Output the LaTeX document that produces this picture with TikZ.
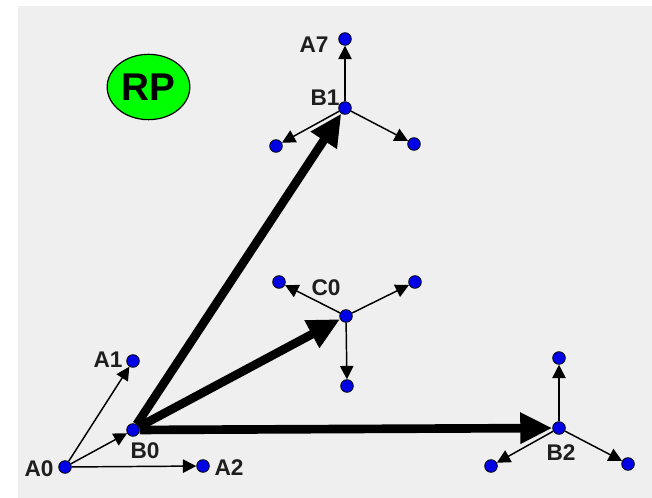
\documentclass[tikz,border=0pt]{standalone}
\usepackage{fontspec}
\setmainfont{Liberation Sans}
\usetikzlibrary{arrows.meta, shapes.geometric}
\definecolor{panelgrey}{RGB}{239, 239, 239}
\definecolor{rpgreen}{RGB}{0, 255, 0}
\definecolor{dotblue}{RGB}{0, 0, 230}
\definecolor{labelgrey}{RGB}{30, 30, 30}
\tikzset{
  dot/.style={circle, draw=black, fill=dotblue, line width=0.6pt, inner sep=0pt, minimum size=9.5pt},
  tag/.style={font=\fontsize{17}{17}\selectfont\bfseries, text=labelgrey, inner sep=0pt},
  thinarrow/.style={-{Triangle[length=10pt, width=10pt]}, line width=1.1pt},
  fatarrow/.style={-{Triangle[length=24pt, width=22pt]}, line width=6.5pt}
}

\begin{document}
\begin{tikzpicture}[x=0.75pt, y=-0.75pt]
            \useasboundingbox (0,0) rectangle (652,498);
            \fill[panelgrey] (18,6) rectangle (652,498);
            % group A
            \node[dot] (A0) at (65,467) {};
            \node[dot] (A1) at (133,361) {};
            \node[dot] (A2) at (203,466) {};
            \node[dot] (B0) at (133,430) {};
            % group B1
            \node[dot] (B1) at (345,108) {};
            \node[dot] (A7) at (345,39) {};
            \node[dot] (B1l) at (276,146) {};
            \node[dot] (B1r) at (414,144) {};
            % group C0
            \node[dot] (C0) at (346,316) {};
            \node[dot] (C0l) at (279,282) {};
            \node[dot] (C0r) at (415,282) {};
            \node[dot] (C0d) at (347,386) {};
            % group B2
            \node[dot] (B2) at (559,428) {};
            \node[dot] (B2u) at (559,358) {};
            \node[dot] (B2l) at (491,466) {};
            \node[dot] (B2r) at (628,464) {};
            \draw[thinarrow] (A0) -- (A1);
            \draw[thinarrow] (A0) -- (A2);
            \draw[thinarrow] (A0) -- (B0);
            \draw[thinarrow] (B1) -- (A7);
            \draw[thinarrow] (B1) -- (B1l);
            \draw[thinarrow] (B1) -- (B1r);
            \draw[thinarrow] (C0) -- (C0l);
            \draw[thinarrow] (C0) -- (C0r);
            \draw[thinarrow] (C0) -- (C0d);
            \draw[thinarrow] (B2) -- (B2u);
            \draw[thinarrow] (B2) -- (B2l);
            \draw[thinarrow] (B2) -- (B2r);
            \draw[fatarrow] (B0) -- (B1);
            \draw[fatarrow] (B0) -- (C0);
            \draw[fatarrow] (B0) -- (B2);
            % labels
            \node[tag] (lA0) at (39,469) {A0};
            \node[tag] (lA1) at (108,360) {A1};
            \node[tag] (lA2) at (229,468) {A2};
            \node[tag] (lB0) at (145,451) {B0};
            \node[tag] (lA7) at (314,45) {A7};
            \node[tag] (lB1) at (325,98) {B1};
            \node[tag] (lC0) at (326,288) {C0};
            \node[tag] (lB2) at (561,453) {B2};
            \node[ellipse, draw=black, fill=rpgreen, line width=0.9pt, minimum width=62pt, minimum height=49pt, inner sep=0pt, font=\fontsize{29}{29}\selectfont\bfseries] (RP) at (148.5,87) {RP};
\end{tikzpicture}
\end{document}
